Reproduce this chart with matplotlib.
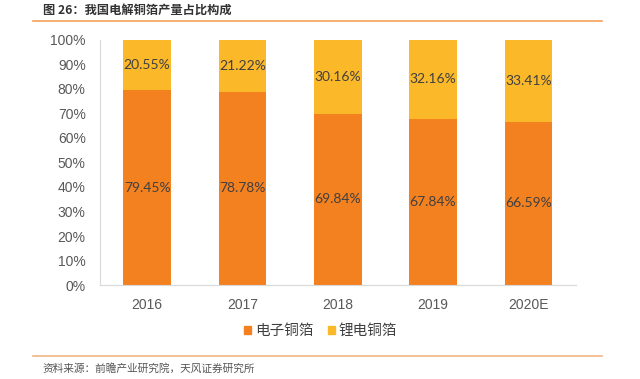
import matplotlib
matplotlib.use("Agg")
import matplotlib.pyplot as plt
from matplotlib.lines import Line2D
from matplotlib.patches import Patch

plt.rcParams['font.family'] = ['Noto Sans CJK SC', 'DejaVu Sans']

years = ['2016', '2017', '2018', '2019', '2020E']
dianzi = [79.45, 78.78, 69.84, 67.84, 66.59]   # 电子铜箔
lidian = [20.55, 21.22, 30.16, 32.16, 33.41]   # 锂电铜箔
yticks = [0, 10, 20, 30, 40, 50, 60, 70, 80, 90, 100]

c_dz = '#F4811F'
c_ld = '#FBB829'

fig = plt.figure(figsize=(6.4, 3.79), dpi=100)
ax = fig.add_axes([0.1555, 0.248, 0.7445, 0.6465])

x = range(len(years))
ax.bar(x, dianzi, width=0.5, color=c_dz, label='电子铜箔')
ax.bar(x, lidian, width=0.5, bottom=dianzi, color=c_ld, label='锂电铜箔')

for i in x:
    ax.text(i, dianzi[i] / 2, f'{dianzi[i]:.2f}%', ha='center', va='center',
            fontsize=10, color='#404040', family='Lato')
    ax.text(i, dianzi[i] + lidian[i] / 2, f'{lidian[i]:.2f}%', ha='center', va='center',
            fontsize=10, color='#404040', family='Lato')

ax.set_xlim(-0.5, 4.5)
ax.set_ylim(0, 100)
ax.set_xticks(list(x))
ax.set_xticklabels(years, family='Liberation Sans')
ax.set_yticks(yticks)
ax.set_yticklabels([f'{v}%' for v in yticks], family='Liberation Sans')
ax.tick_params(axis='both', length=0, labelsize=10, colors='#595959')
ax.tick_params(axis='x', pad=9)
ax.tick_params(axis='y', pad=10)
for s in ['top', 'right']:
    ax.spines[s].set_visible(False)
for s in ['left', 'bottom']:
    ax.spines[s].set_color('#D9D9D9')
    ax.spines[s].set_linewidth(0.8)

handles = [Patch(color=c_dz), Patch(color=c_ld)]
fig.legend(handles, ['电子铜箔', '锂电铜箔'], loc='center', bbox_to_anchor=(0.501, 0.127),
           ncol=2, frameon=False, fontsize=10.5, handlelength=0.5, handleheight=0.5,
           handletextpad=0.25, columnspacing=1.0, labelcolor='#404040')

fig.text(0.067, 0.974, '图 26：我国电解铜箔产量占比构成', fontsize=8.8, fontweight='bold',
         color='#333333', va='center')
fig.add_artist(Line2D([0.0516, 0.94], [0.945, 0.945], color='#F4A259', lw=1.2))
fig.add_artist(Line2D([0.0516, 0.94], [0.0615, 0.0615], color='#EFB583', lw=1.2))
fig.text(0.067, 0.029, '资料来源：前瞻产业研究院，天风证券研究所', fontsize=7.7,
         color='#555555', va='center')

fig.savefig('out.png', dpi=100)
